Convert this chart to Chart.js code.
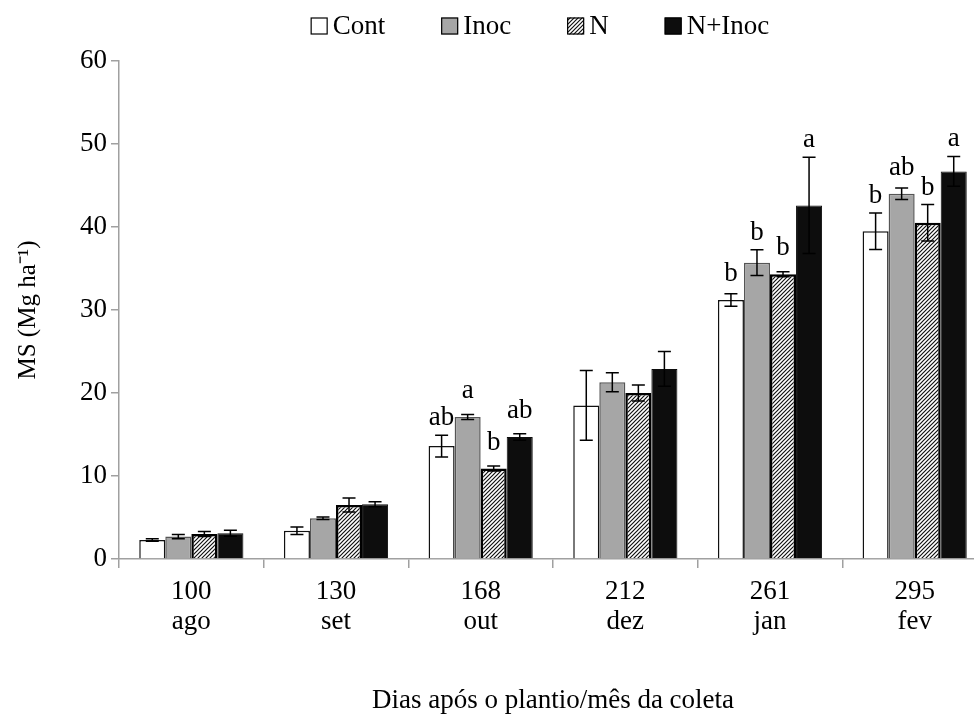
<!DOCTYPE html>
<html>
<head>
<meta charset="utf-8">
<script src="https://cdn.jsdelivr.net/npm/chart.js@4/dist/chart.umd.min.js"></script>
<style>
  html, body { margin: 0; padding: 0; background: #fff; overflow: hidden; }
  #wrap { width: 1000px; height: 715px; }
</style>
</head>
<body>
<div id="wrap"><canvas id="chart" width="1000" height="715"></canvas></div>
<script>
// categorias (dias apos o plantio / mes)
const categorias = [['100', 'ago'], ['130', 'set'], ['168', 'out'], ['212', 'dez'], ['261', 'jan'], ['295', 'fev']];

// MS (Mg ha-1) por tratamento
const cont   = [2.3, 3.4, 13.6, 18.5, 31.2, 39.5];
const inoc   = [2.7, 4.9, 17.1, 21.3, 35.7, 44.0];
const nitro  = [3.0, 6.5, 10.9, 20.0, 34.3, 40.5];
const nInoc  = [3.1, 6.6, 14.7, 22.9, 42.6, 46.7];

// erro padrao
const contErr  = [0.15, 0.45, 1.3, 4.2, 0.75, 2.2];
const inocErr  = [0.25, 0.15, 0.3, 1.15, 1.55, 0.7];
const nitroErr = [0.3, 0.85, 0.3, 0.95, 0.3, 2.2];
const nInocErr = [0.35, 0.3, 0.4, 2.1, 5.8, 1.8];

// letras (teste de medias)
const contLetra  = ['', '', 'ab', '', 'b', 'b'];
const inocLetra  = ['', '', 'a', '', 'b', 'ab'];
const nitroLetra = ['', '', 'b', '', 'b', 'b'];
const nInocLetra = ['', '', 'ab', '', 'a', 'a'];

const yTicks = [0, 10, 20, 30, 40, 50, 60];

const fonte = 'Liberation Serif, Times New Roman, serif';
const cinzaEixo = '#a0a0a0';

// hachura do tratamento N
function hachura() {
    const c = document.createElement('canvas');
    c.width = 4; c.height = 4;
    const g = c.getContext('2d');
    g.fillStyle = '#fff';
    g.fillRect(0, 0, 4, 4);
    g.strokeStyle = '#111';
    g.lineWidth = 1.2;
    g.beginPath();
    g.moveTo(-1, 5); g.lineTo(5, -1);
    g.moveTo(-1, 1); g.lineTo(1, -1);
    g.moveTo(3, 5); g.lineTo(5, 3);
    g.stroke();
    return g.createPattern(c, 'repeat');
}
const padraoN = hachura();

const erros = [contErr, inocErr, nitroErr, nInocErr];
const letras = [contLetra, inocLetra, nitroLetra, nInocLetra];

// barras de erro + letras
const errorBars = {
    id: 'errorBars',
    afterDatasetsDraw(chart) {
        const ctx = chart.ctx;
        const y = chart.scales.y;
        ctx.save();
        chart.data.datasets.forEach((ds, i) => {
            const meta = chart.getDatasetMeta(i);
            meta.data.forEach((bar, j) => {
                const v = ds.data[j];
                const e = erros[i][j];
                const top = y.getPixelForValue(v + e);
                const bot = y.getPixelForValue(v - e);
                ctx.strokeStyle = '#000';
                ctx.lineWidth = 1.5;
                ctx.beginPath();
                ctx.moveTo(bar.x, top); ctx.lineTo(bar.x, bot);
                ctx.moveTo(bar.x - 6.5, top); ctx.lineTo(bar.x + 6.5, top);
                ctx.moveTo(bar.x - 6.5, bot); ctx.lineTo(bar.x + 6.5, bot);
                ctx.stroke();
                const l = letras[i][j];
                if (l) {
                    const ly = Math.min(top - 10, y.getPixelForValue(v) - 19);
                    ctx.fillStyle = '#000';
                    ctx.font = '27px ' + fonte;
                    ctx.textAlign = 'center';
                    ctx.textBaseline = 'alphabetic';
                    ctx.fillText(l, bar.x, ly);
                }
            });
        });
        ctx.restore();
    }
};

// legenda no topo
const legenda = {
    id: 'legenda',
    afterDraw(chart) {
        const ctx = chart.ctx;
        const box = 17, gap = 5, esp = 56;
        ctx.save();
        ctx.font = '27px ' + fonte;
        const ds = chart.data.datasets;
        let total = 0;
        ds.forEach((d, i) => {
            total += box + gap + ctx.measureText(d.label).width + (i < ds.length - 1 ? esp : 0);
        });
        const a = chart.chartArea;
        let x = (a.left + a.right) / 2 - 13 - total / 2;
        const yc = 26;
        ds.forEach(d => {
            ctx.fillStyle = d.backgroundColor;
            ctx.fillRect(x, yc - box / 2, box, box);
            ctx.strokeStyle = '#000';
            ctx.lineWidth = 1.2;
            ctx.strokeRect(x + 0.5, yc - box / 2 + 0.5, box - 1, box - 1);
            ctx.fillStyle = '#000';
            ctx.textAlign = 'left';
            ctx.textBaseline = 'middle';
            ctx.fillText(d.label, x + box + gap, yc + 1);
            x += box + gap + ctx.measureText(d.label).width + esp;
        });
        ctx.restore();
    }
};

const config = {
    type: 'bar',
    data: {
        labels: categorias,
        datasets: [
            { label: 'Cont', data: cont, backgroundColor: '#ffffff', borderColor: '#111', borderWidth: 1.5 },
            { label: 'Inoc', data: inoc, backgroundColor: '#a6a6a6', borderColor: '#555', borderWidth: 1.5 },
            { label: 'N', data: nitro, backgroundColor: padraoN, borderColor: '#000', borderWidth: 2.5 },
            { label: 'N+Inoc', data: nInoc, backgroundColor: '#0d0d0d', borderColor: '#0d0d0d', borderWidth: 1 }
        ]
    },
    options: {
        responsive: false,
        animation: false,
        devicePixelRatio: 1,
        layout: { padding: { top: 61, right: 13, bottom: 0, left: 0 } },
        datasets: { bar: { categoryPercentage: 0.72, barPercentage: 1.0 } },
        plugins: {
            legend: { display: false },
            tooltip: { enabled: false }
        },
        scales: {
            x: {
                grid: { offset: true, drawOnChartArea: false, tickLength: 9, color: cinzaEixo, lineWidth: 1.5 },
                border: { color: cinzaEixo, width: 1.5 },
                ticks: { color: '#000', padding: 9, font: { family: fonte, size: 27, lineHeight: 1.12 } },
                title: {
                    display: true,
                    text: 'Dias após o plantio/mês da coleta',
                    color: '#000',
                    font: { family: fonte, size: 27, lineHeight: 1.2 },
                    padding: { top: 0, bottom: -2 }
                },
                afterFit(scale) { scale.height = 156; }
            },
            y: {
                min: 0,
                max: 60,
                afterBuildTicks(scale) { scale.ticks = yTicks.map(v => ({ value: v })); },
                grid: { drawOnChartArea: false, tickLength: 8, color: cinzaEixo, lineWidth: 1.5 },
                border: { color: cinzaEixo, width: 1.5 },
                ticks: { color: '#000', padding: 4, font: { family: fonte, size: 27 } },
                title: {
                    display: true,
                    text: 'MS (Mg ha⁻¹)',
                    color: '#000',
                    font: { family: fonte, size: 25, lineHeight: 1.2 },
                    padding: { top: 13, bottom: 0 }
                },
                afterFit(scale) { scale.width = 119; }
            }
        }
    },
    plugins: [errorBars, legenda]
};

var chart = document.getElementById('chart');
var myChart = new Chart(chart, config);
</script>
</body>
</html>
